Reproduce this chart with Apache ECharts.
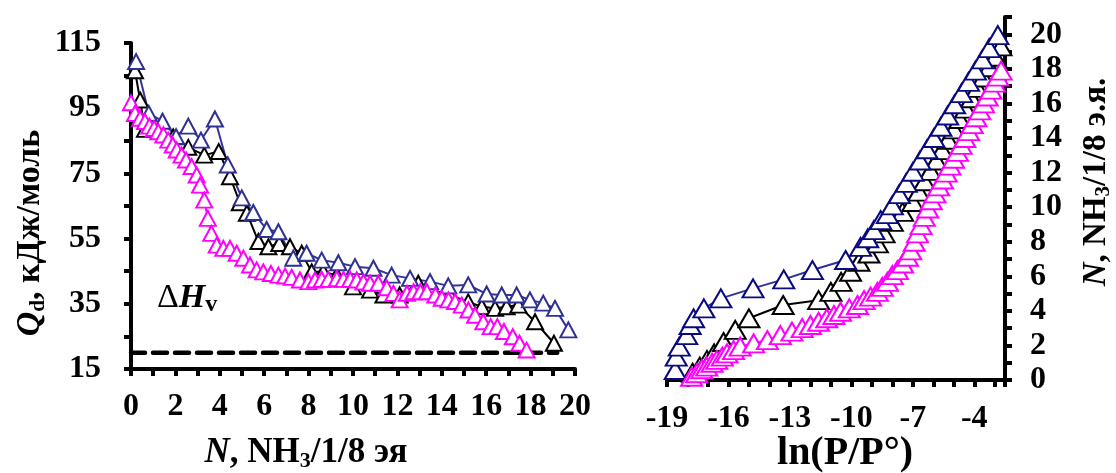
<!DOCTYPE html>
<html>
<head>
<meta charset="utf-8">
<script src="https://cdn.jsdelivr.net/npm/echarts@6/dist/echarts.min.js"></script>
<style>
  html, body { margin: 0; padding: 0; background: #fff; }
  #chart { width: 1116px; height: 473px; }
</style>
</head>
<body>
<div id="chart"></div>
<script>
// Differential heats of NH3 adsorption, Q_d vs N (three samples)
const blueN  = [0.23, 0.8, 1.42, 2.03, 2.58, 3.15, 3.78, 4.36, 4.99, 5.51, 6.11, 6.64, 7.31, 7.91, 8.59, 9.34, 10.09, 10.92, 11.74, 12.57, 13.47, 14.29, 15.19, 16.02, 16.7, 17.37, 17.97, 18.57, 19.1, 19.7];
const blueQ  = [109.3, 93.4, 91.0, 86.3, 89.5, 85.2, 91.7, 77.6, 67.5, 63.0, 57.8, 57.1, 49.0, 50.5, 48.4, 47.6, 46.4, 45.9, 43.8, 42.8, 41.8, 40.5, 40.8, 38.0, 37.7, 37.7, 36.2, 35.2, 33.6, 27.0];

const blackN = [0.18, 0.41, 0.63, 1.25, 1.9, 2.58, 3.3, 3.95, 4.46, 4.9, 5.22, 5.74, 6.19, 6.68, 7.16, 7.69, 8.14, 8.66, 9.27, 10.0, 10.77, 11.37, 12.1, 12.94, 13.6, 14.37, 15.19, 15.8, 16.4, 16.92, 17.45, 18.2, 19.05];
const blackQ = [106.5, 97.5, 88.5, 88.5, 86.2, 83.0, 80.6, 81.7, 74.0, 66.0, 62.8, 54.1, 52.5, 53.5, 52.5, 50.5, 44.8, 44.8, 43.8, 40.2, 39.2, 37.7, 37.7, 41.3, 39.2, 37.7, 35.6, 34.1, 33.6, 34.1, 34.6, 29.5, 22.9];

const magN = [0.0, 0.18, 0.41, 0.63, 0.83, 1.04, 1.23, 1.46, 1.68, 1.88, 2.06, 2.28, 2.48, 2.73, 2.96, 3.11, 3.3, 3.46, 3.62, 3.86, 4.16, 4.46, 4.76, 5.06, 5.36, 5.66, 5.96, 6.3, 6.64, 6.94, 7.24, 7.61, 7.99, 8.29, 8.59, 8.89, 9.27, 9.57, 9.87, 10.17, 10.47, 10.77, 11.14, 11.52, 11.82, 12.1, 12.43, 12.73, 13.03, 13.33, 13.71, 14.0, 14.3, 14.6, 14.9, 15.2, 15.5, 15.87, 16.2, 16.5, 16.8, 17.2, 17.5, 17.82];
const magQ = [96.7, 93.4, 91.9, 90.9, 89.5, 88.8, 87.8, 86.8, 85.2, 83.7, 82.2, 80.6, 79.1, 77.1, 74.5, 71.4, 66.8, 61.2, 56.6, 53.0, 52.0, 52.0, 50.5, 49.0, 46.9, 45.4, 44.8, 44.3, 43.8, 43.5, 43.1, 42.3, 41.8, 42.3, 42.5, 42.5, 42.7, 42.5, 42.5, 42.3, 41.7, 41.3, 41.3, 39.9, 38.2, 36.2, 38.2, 38.7, 38.7, 38.7, 37.7, 36.7, 36.2, 35.7, 34.6, 33.1, 31.5, 29.5, 28.0, 28.0, 26.5, 24.9, 22.9, 20.8];

// Heat of NH3 vaporisation (dashed reference level)
const vapN = [0, 19.2];
const vapQ = [20, 20];

// Adsorption isotherms, N vs ln(P/P°)
const rBlueLn = [-18.6, -18.55, -18.4, -18.04, -17.87, -17.7, -17.2, -16.37, -14.8, -13.3, -11.9, -10.28, -9.55, -9.2, -8.9, -8.57, -8.24, -8.0, -7.66, -7.32, -6.99, -6.65, -6.31, -5.97, -5.63, -5.3, -4.96, -4.62, -4.28, -3.94, -3.6, -3.27, -2.85];
const rBlueN  = [0.58, 1.35, 1.93, 2.6, 3.18, 3.57, 4.14, 4.72, 5.3, 5.82, 6.36, 6.94, 7.7, 8.2, 8.67, 9.25, 9.6, 10.1, 10.75, 11.4, 12.05, 12.7, 13.35, 14.0, 14.65, 15.3, 15.95, 16.6, 17.25, 17.9, 18.55, 19.2, 19.95];

const rBlackLn = [-17.75, -17.4, -17.05, -16.7, -16.24, -15.67, -15.0, -13.33, -11.6, -11.0, -10.5, -10.04, -9.63, -9.14, -8.73, -8.4, -8.0, -7.5, -7.0, -6.71, -6.43, -6.14, -5.85, -5.57, -5.28, -4.99, -4.71, -4.42, -4.13, -3.85, -3.56, -3.27, -2.98, -2.7];
const rBlackN  = [0.42, 0.77, 1.16, 1.54, 2.2, 2.9, 3.57, 4.34, 4.62, 5.1, 5.68, 6.26, 6.84, 7.32, 7.9, 8.48, 9.15, 9.73, 10.3, 10.9, 11.5, 12.1, 12.7, 13.3, 13.9, 14.5, 15.1, 15.7, 16.3, 16.9, 17.5, 18.1, 18.7, 19.3];

const rMagLn = [-17.8, -17.55, -17.3, -17.06, -16.8, -16.57, -16.3, -16.07, -15.75, -15.43, -14.77, -14.1, -13.47, -12.9, -12.4, -12.0, -11.6, -11.2, -10.85, -10.53, -10.1, -9.7, -9.38, -9.06, -8.73, -8.49, -8.24, -8.0, -7.75, -7.5, -7.26, -7.1, -6.93, -6.77, -6.6, -6.44, -6.27, -6.1, -5.92, -5.74, -5.55, -5.37, -5.19, -5.01, -4.82, -4.64, -4.46, -4.28, -4.1, -3.92, -3.73, -3.55, -3.37, -3.19, -3.01, -2.85, -2.69];
const rMagN  = [0.19, 0.39, 0.62, 0.77, 1.0, 1.16, 1.35, 1.54, 1.73, 1.93, 2.12, 2.31, 2.6, 2.8, 3.0, 3.18, 3.37, 3.57, 3.76, 3.95, 4.14, 4.34, 4.62, 4.82, 5.1, 5.39, 5.68, 6.07, 6.36, 6.74, 7.13, 7.5, 8.0, 8.48, 8.96, 9.44, 9.92, 10.4, 10.8, 11.2, 11.6, 12.0, 12.4, 12.8, 13.2, 13.6, 14.0, 14.4, 14.8, 15.2, 15.6, 16.0, 16.4, 16.8, 17.2, 17.55, 17.9];

const FONT = '"Liberation Serif", "Times New Roman", serif';
const zip = (a, b) => a.map((v, i) => [v, b[i]]);

const axisCommon = {
  type: 'value',
  splitLine: { show: false },
  axisLine: { show: true, onZero: false, lineStyle: { color: '#000', width: 4 } },
  axisTick: { show: true, length: 7, lineStyle: { color: '#000', width: 4 } }
};
const labelStyle = { color: '#000', fontSize: 32, fontWeight: 'bold', fontFamily: FONT };

function triSeries(name, xi, data, color, lineColor, size, border) {
  return {
    name, type: 'line', xAxisIndex: xi, yAxisIndex: xi, data,
    symbol: 'triangle', symbolSize: size, showAllSymbol: true,
    itemStyle: { color: '#fff', borderColor: color, borderWidth: border },
    lineStyle: { color: lineColor, width: 2 },
    silent: true, animation: false, emphasis: { disabled: true }
  };
}

const chart = echarts.init(document.getElementById('chart'), null, { renderer: 'canvas' });
chart.setOption({
  animation: false,
  backgroundColor: '#fff',
  grid: [
    { left: 131, top: 43, width: 444, height: 326 },
    { left: 667, top: 17, width: 338, height: 363 }
  ],
  xAxis: [
    Object.assign({}, axisCommon, {
      gridIndex: 0, min: 0, max: 20, interval: 1,
      axisLabel: Object.assign({}, labelStyle, { margin: 22, formatter: v => (v % 2 === 0 ? String(v) : '') })
    }),
    Object.assign({}, axisCommon, {
      gridIndex: 1, min: -19, max: -2.5, interval: 1,
      axisLabel: Object.assign({}, labelStyle, {
        margin: 23,
        formatter: v => (Number.isInteger(v) && (v + 19) % 3 === 0 ? String(v) : '')
      })
    })
  ],
  yAxis: [
    Object.assign({}, axisCommon, {
      gridIndex: 0, min: 15, max: 115, interval: 10,
      axisLabel: Object.assign({}, labelStyle, { margin: 30, formatter: v => ((v - 15) % 20 === 0 ? String(v) : '') })
    }),
    Object.assign({}, axisCommon, {
      gridIndex: 1, position: 'right', min: 0, max: 21, interval: 1,
      axisLabel: Object.assign({}, labelStyle, { margin: 25, formatter: v => (v % 2 === 0 && v <= 20 ? String(v) : '') })
    })
  ],
  series: [
    {
      type: 'line', xAxisIndex: 0, yAxisIndex: 0, data: zip(vapN, vapQ),
      symbol: 'none', silent: true,
      lineStyle: { color: '#000', width: 4.5, type: [14, 8], cap: 'round' }
    },
    triSeries('black', 0, zip(blackN, blackQ), '#000', '#000', [16, 15], 2),
    triSeries('blue', 0, zip(blueN, blueQ), '#2e3192', '#34359a', [16, 15], 2),
    triSeries('magenta', 0, zip(magN, magQ), '#ff00ff', '#ff00ff', [16, 15], 2),
    triSeries('black-iso', 1, zip(rBlackLn, rBlackN), '#000', '#000', [21, 18], 2),
    triSeries('blue-iso', 1, zip(rBlueLn, rBlueN), '#0a0a80', '#30309a', [21, 18], 2),
    triSeries('magenta-iso', 1, zip(rMagLn, rMagN), '#ff00ff', '#ff00ff', [21, 18], 2)
  ],
  graphic: [
    {
      type: 'text', x: 30, y: 233, rotation: Math.PI / 2,
      style: {
        text: '{q|Q}{d|d}{t|, кДж/моль}',
        align: 'center', verticalAlign: 'middle',
        rich: {
          q: { fontFamily: FONT, fontSize: 34, fontWeight: 'bold', fontStyle: 'italic', lineHeight: 38 },
          d: { fontFamily: FONT, fontSize: 21, fontWeight: 'bold', verticalAlign: 'bottom', lineHeight: 22 },
          t: { fontFamily: FONT, fontSize: 34, fontWeight: 'bold', lineHeight: 38 }
        }
      }
    },
    {
      type: 'text', x: 306, y: 453,
      style: {
        text: '{i|N}{t|, NH}{s|3}{t|/1/8 эя}',
        align: 'center', verticalAlign: 'middle',
        rich: {
          i: { fontFamily: FONT, fontSize: 35, fontWeight: 'bold', fontStyle: 'italic', lineHeight: 38 },
          t: { fontFamily: FONT, fontSize: 35, fontWeight: 'bold', lineHeight: 38 },
          s: { fontFamily: FONT, fontSize: 22, fontWeight: 'bold', verticalAlign: 'bottom', lineHeight: 22 }
        }
      }
    },
    {
      type: 'text', x: 845, y: 454,
      style: {
        text: 'ln(P/P°)', align: 'center', verticalAlign: 'middle',
        fontFamily: FONT, fontSize: 40, fontWeight: 'bold', fill: '#000'
      }
    },
    {
      type: 'text', x: 1096, y: 182, rotation: Math.PI / 2,
      style: {
        text: '{i|N}{t|, NH}{s|3}{t|/1/8 э.я.}',
        align: 'center', verticalAlign: 'middle',
        rich: {
          i: { fontFamily: FONT, fontSize: 33, fontWeight: 'bold', fontStyle: 'italic', lineHeight: 36 },
          t: { fontFamily: FONT, fontSize: 33, fontWeight: 'bold', lineHeight: 36 },
          s: { fontFamily: FONT, fontSize: 21, fontWeight: 'bold', verticalAlign: 'bottom', lineHeight: 21 }
        }
      }
    },
    {
      type: 'text', x: 157, y: 298,
      style: {
        text: '{a|Δ}{h|H}{v|v}',
        align: 'left', verticalAlign: 'middle',
        rich: {
          a: { fontFamily: FONT, fontSize: 34, lineHeight: 38 },
          h: { fontFamily: FONT, fontSize: 34, fontStyle: 'italic', fontWeight: 'bold', lineHeight: 38 },
          v: { fontFamily: FONT, fontSize: 24, fontWeight: 'bold', verticalAlign: 'bottom', lineHeight: 24 }
        }
      }
    }
  ]
});
</script>
</body>
</html>
